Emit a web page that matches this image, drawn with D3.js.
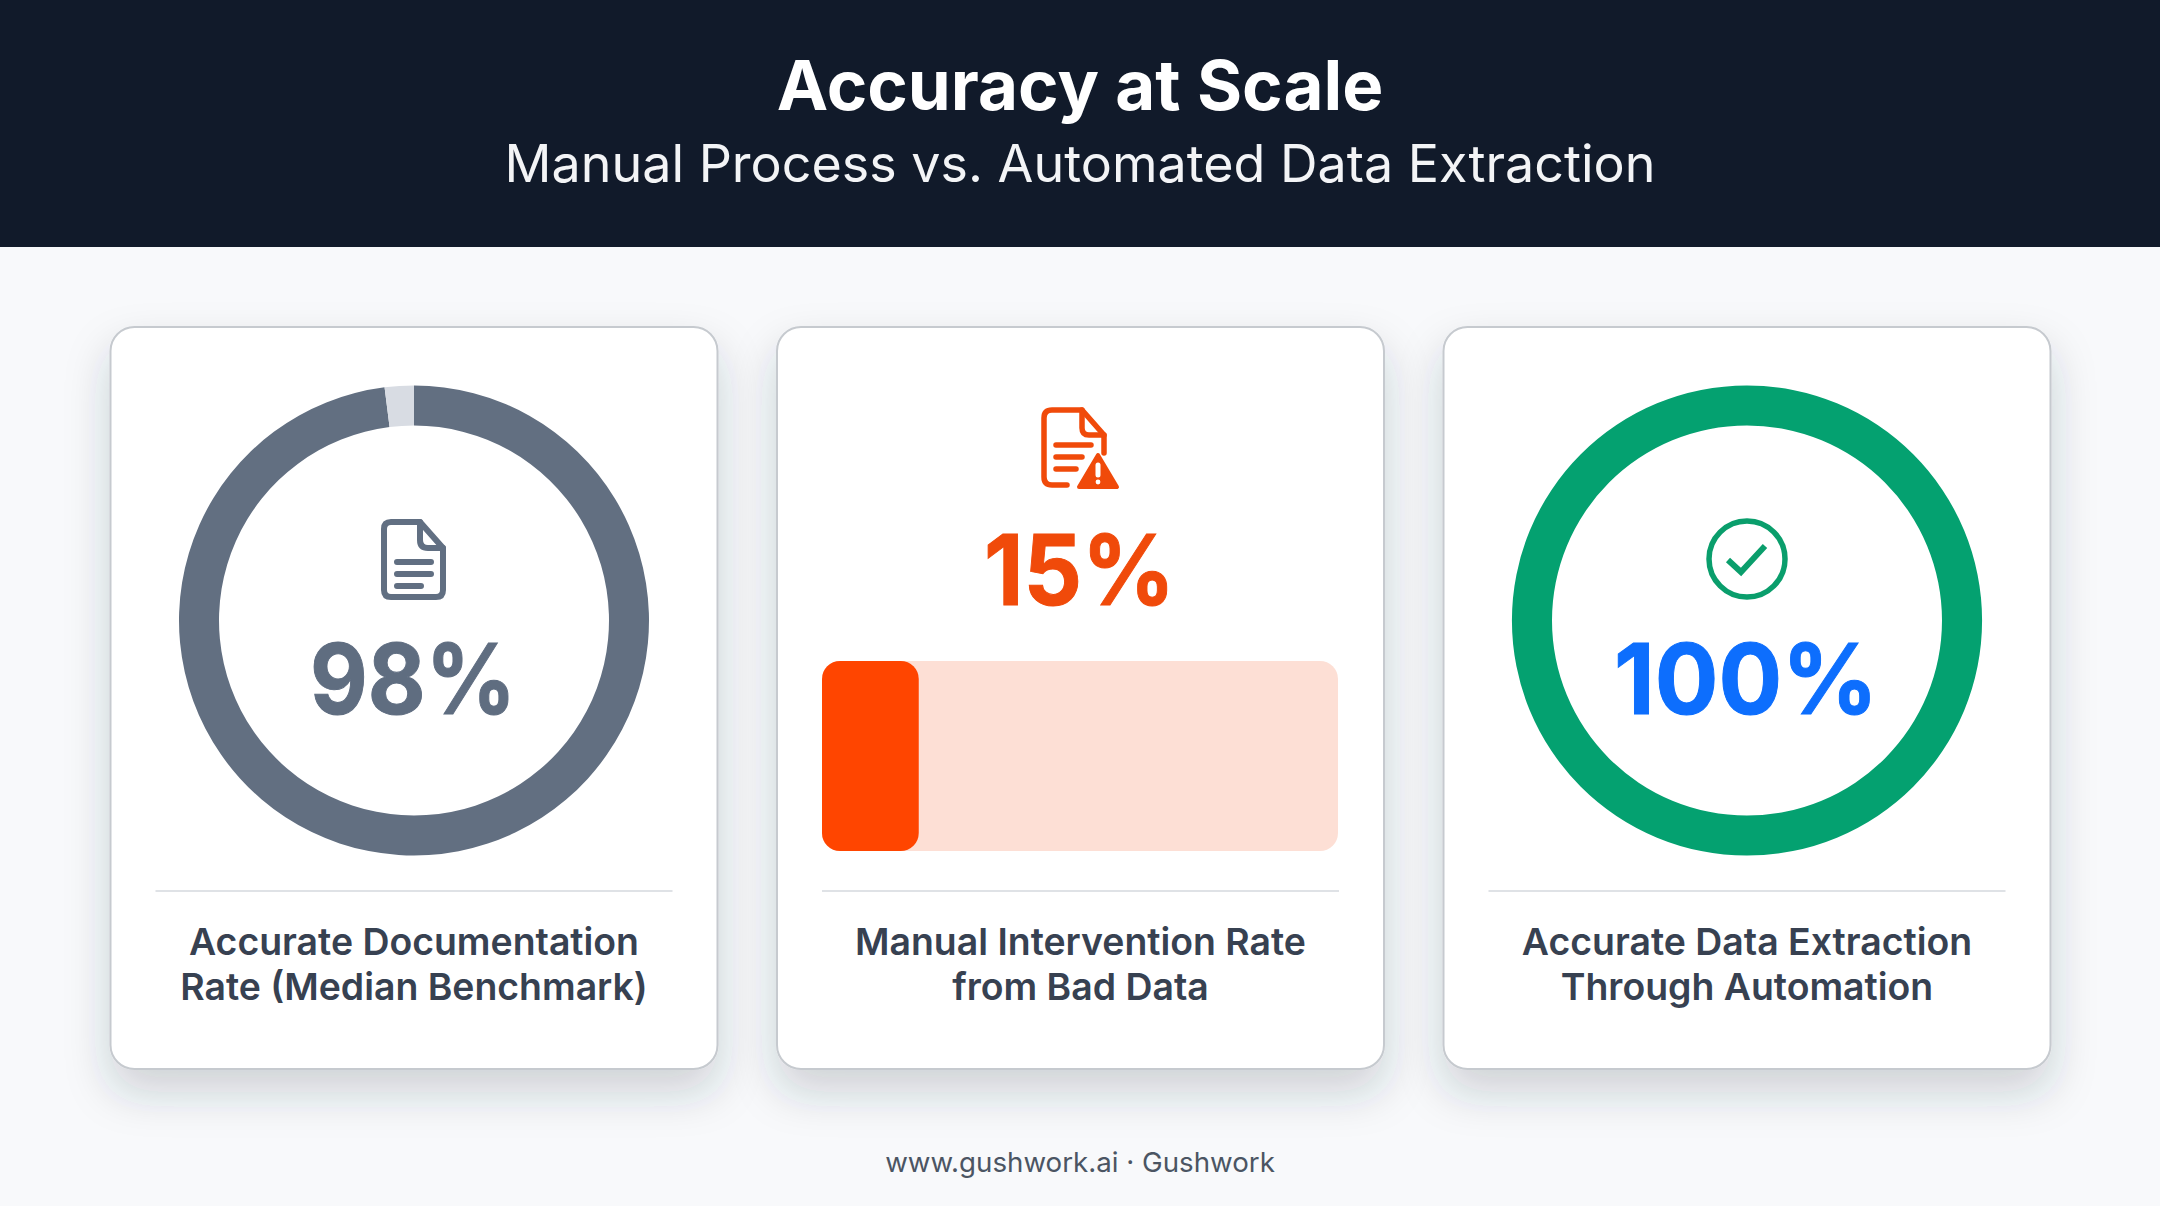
<!DOCTYPE html>
<html><head><meta charset="utf-8">
<script src="https://cdn.jsdelivr.net/npm/d3@7"></script>
<style>html,body{margin:0;padding:0;background:#f8f9fb}svg{display:block}text{font-family:Inter,sans-serif}</style>
</head><body><svg id="c" width="2160" height="1206"></svg>
<script>
const titleText = "Accuracy at Scale";
const subtitleText = "Manual Process vs. Automated Data Extraction";
const footerText = "www.gushwork.ai · Gushwork";
const cardLabels = [
  ["Accurate Documentation","Rate (Median Benchmark)"],
  ["Manual Intervention Rate","from Bad Data"],
  ["Accurate Data Extraction","Through Automation"]
];
const cardValues = [98, 15, 100];
const valueColors = ["#5f6d80","#f04a0a","#0d6efd"];
const ringColors = [["#626f81","#d8dce3"],["#04a170","#04a170"]];
const barColors = ["#ff4500","#fddfd5"];
const cardX = [110, 776.5, 1443];

const W=2160,H=1206,svg=d3.select("#c");
const defs=svg.append("defs");
const f=defs.append("filter").attr("id","sh").attr("x","-20%").attr("y","-20%").attr("width","140%").attr("height","150%");
f.append("feDropShadow").attr("dx",0).attr("dy",22).attr("stdDeviation",22).attr("flood-color","#2b3340").attr("flood-opacity",.2);

svg.append("rect").attr("width",W).attr("height",H).attr("fill","#f8f9fb");
svg.append("rect").attr("width",W).attr("height",247).attr("fill","#111a2a");
svg.append("text").attr("x",W/2).attr("y",110).attr("text-anchor","middle").attr("font-size",69).attr("font-weight",700).attr("fill","#fff").text(titleText);
svg.append("text").attr("x",W/2).attr("y",182).attr("text-anchor","middle").attr("font-size",52).attr("font-weight",400).attr("fill","#f3f4f6").text(subtitleText);
svg.append("text").attr("x",W/2).attr("y",1172).attr("text-anchor","middle").attr("font-size",27.7).attr("fill","#4b5563").text(footerText);

const cw=608,ch=743,cy=326.5;
const cards=svg.selectAll("g.card").data(cardValues).join("g").attr("class","card").attr("transform",(d,i)=>`translate(${cardX[i]},${cy})`);
cards.append("rect").attr("x",.5).attr("y",.5).attr("width",cw-1).attr("height",ch-1).attr("rx",24).attr("fill","#fff").attr("stroke","#c6cacf").attr("stroke-width",2).attr("filter","url(#sh)");
cards.append("line").attr("x1",45.5).attr("x2",562.5).attr("y1",564.5).attr("y2",564.5).attr("stroke","#dfe2e6").attr("stroke-width",2);
cards.each(function(d,i){
  const t=d3.select(this).append("text").attr("text-anchor","middle").attr("font-size",37.4).attr("font-weight",600).attr("fill","#374151");
  cardLabels[i].forEach((s,j)=>t.append("tspan").attr("x",cw/2).attr("y",628.5+j*45).text(s));
});
const valueWidths=[206,191,264];
cards.append("text").attr("x",cw/2-1).attr("y",(d,i)=>i==1?278.5:387.5).attr("text-anchor","middle").attr("font-size",98).attr("font-weight",700)
  .attr("textLength",(d,i)=>valueWidths[i]).attr("lengthAdjust","spacingAndGlyphs")
  .attr("fill",(d,i)=>valueColors[i]).attr("stroke",(d,i)=>valueColors[i]).attr("stroke-width",1).text(d=>d+"%");

// rings
const arc=d3.arc().innerRadius(195).outerRadius(235);
const pie=d3.pie().sort(null).value(d=>d);
[[0,cardValues[0]],[2,cardValues[2]]].forEach(([idx,v],k)=>{
  const g=cards.filter((d,i)=>i===idx).append("g").attr("transform",`translate(${cw/2},294)`);
  g.selectAll("path").data(pie([v,100-v])).join("path").attr("d",arc).attr("fill",(d,i)=>ringColors[k][i]);
});

// bar
const barG=cards.filter((d,i)=>i===1).append("g");
const x=d3.scaleLinear().domain([0,80]).range([45.5,561.5]);
barG.append("rect").attr("x",x(0)).attr("y",334.5).attr("width",x(80)-x(0)).attr("height",190).attr("rx",18).attr("fill",barColors[1]);
barG.append("rect").attr("x",x(0)).attr("y",334.5).attr("width",x(cardValues[1])-x(0)).attr("height",190).attr("rx",18).attr("fill",barColors[0]);

// icons
const ic1="#616f82",ic2="#f04a0a",ic3="#0a9e6c";
const doc=svg.append("g").attr("fill","none").attr("stroke",ic1).attr("stroke-width",6).attr("stroke-linejoin","round").attr("stroke-linecap","round");
doc.append("path").attr("d","M391 522H420L443 548V590Q443 597 436 597H391Q384 597 384 590V529Q384 522 391 522Z");
doc.append("path").attr("d","M420 522V540Q420 548 428 548H443");
doc.append("path").attr("d","M397 562H431M397 574H431M397 586H421");

const warn=svg.append("g").attr("fill","none").attr("stroke",ic2).attr("stroke-width",5.5).attr("stroke-linejoin","round").attr("stroke-linecap","round");
warn.append("path").attr("d","M1067 485H1052Q1044 485 1044 477V418Q1044 410 1052 410H1082L1104 435V453");
warn.append("path").attr("d","M1082 410V428Q1082 435 1089 435H1104");
warn.append("path").attr("d","M1056 445H1091M1056 457H1082M1056 469H1076");
warn.append("path").attr("d","M1098 455L1117 487H1079Z").attr("fill",ic2).attr("stroke-width",4);
warn.append("path").attr("d","M1098 465V475").attr("stroke","#fff").attr("stroke-width",5);
warn.append("circle").attr("cx",1098).attr("cy",482).attr("r",2.4).attr("fill","#fff").attr("stroke","none");

const chk=svg.append("g").attr("fill","none").attr("stroke",ic3);
chk.append("circle").attr("cx",1747).attr("cy",559).attr("r",38).attr("stroke-width",5.5);
chk.append("path").attr("d","M1728 560L1741 572L1765 546").attr("stroke-width",6);
</script></body></html>
